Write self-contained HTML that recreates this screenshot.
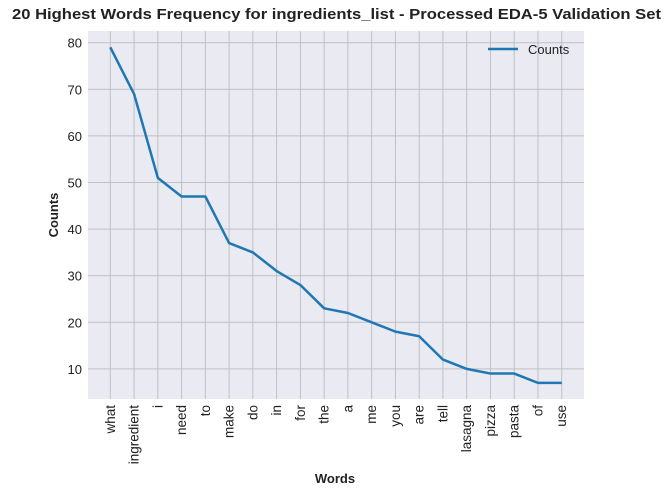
<!DOCTYPE html>
<html><head><meta charset="utf-8"><style>
body{margin:0;background:#fff;font-family:"Liberation Sans",Arial,sans-serif;}
</style></head><body>
<svg id="chart" width="671" height="495" xmlns="http://www.w3.org/2000/svg">
<text x="12" y="19" textLength="649" lengthAdjust="spacingAndGlyphs" font-size="15" font-weight="bold" fill="#222">20 Highest Words Frequency for ingredients_list - Processed EDA-5 Validation Set</text>
<rect x="88" y="31" width="496" height="368" fill="#eaeaf2"/>
<g id="grid"></g>
<g id="ticks"></g>
<polyline id="line" fill="none" stroke="#1f77b4" stroke-width="2.5" stroke-linejoin="round"/>
<g>
<line x1="488" y1="49" x2="518" y2="49" stroke="#1f77b4" stroke-width="2.5"/>
<text x="528" y="54" font-size="13" fill="#222">Counts</text>
</g>
<text x="335" y="483" text-anchor="middle" font-size="13" font-weight="bold" fill="#222">Words</text>
<text transform="translate(58,215) rotate(-90)" text-anchor="middle" font-size="13" font-weight="bold" fill="#222">Counts</text>
</svg>
<script>
const words=["what","ingredient","i","need","to","make","do","in","for","the","a","me","you","are","tell","lasagna","pizza","pasta","of","use"];
const counts=[79,69,51,47,47,37,35,31,28,23,22,20,18,17,12,10,9,9,7,7];
const yTicks=[10,20,30,40,50,60,70,80];
const NS="http://www.w3.org/2000/svg";
function xs(i){return 110.3+i*23.76;}
function ys(v){return 42.7+(80-v)*4.66;}
const grid=document.getElementById('grid'),ticks=document.getElementById('ticks');
function mk(tag,attrs,parent){const e=document.createElementNS(NS,tag);for(const k in attrs)e.setAttribute(k,attrs[k]);parent.appendChild(e);return e;}
yTicks.forEach(t=>{
 const l=mk('line',{x1:88,x2:584,y1:ys(t),y2:ys(t),stroke:'#c0c0c0','stroke-width':1},grid);
 
 
 const tx=mk('text',{x:82,y:ys(t)+5,'text-anchor':'end','font-size':13,fill:'#222'},ticks);
 tx.textContent=t;
 
 
});
words.forEach((w,i)=>{
 const l=mk('line',{x1:xs(i),x2:xs(i),y1:31,y2:399,stroke:'#c0c0c0','stroke-width':1},grid);
 
 
 const tx=mk('text',{transform:`translate(${xs(i)+4.5},405) rotate(-90)`,'text-anchor':'end','font-size':13.5,fill:'#222'},ticks);
 tx.textContent=w;
 
 
});
document.getElementById('line').setAttribute('points',counts.map((v,i)=>xs(i)+','+ys(v)).join(' '));
</script>
</body></html>
